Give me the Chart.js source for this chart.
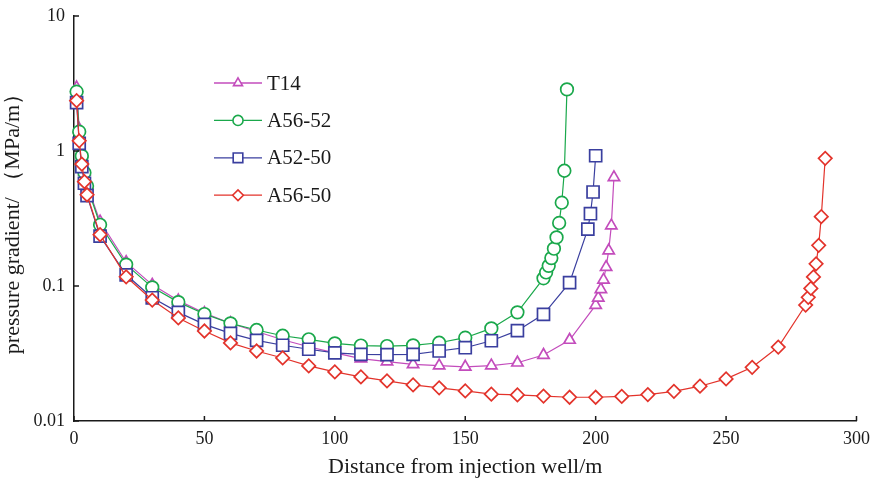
<!DOCTYPE html>
<html>
<head>
<meta charset="utf-8">
<script src="https://cdn.jsdelivr.net/npm/chart.js@4.4.1/dist/chart.umd.min.js"></script>
<style>
  html, body { margin: 0; padding: 0; background: #fff; }
</style>
</head>
<body>
<canvas id="chart" width="877" height="484"></canvas>
<script>
// values
const t14X = [1, 2, 3, 4, 5, 10, 20, 30, 40, 50, 60, 70, 80, 90, 100, 110, 120, 130, 140, 150, 160, 170, 180, 190, 200, 201, 202, 203, 204, 205, 206, 207];
const t14Y = [2.95, 1.45, 0.95, 0.7, 0.56, 0.3, 0.15, 0.102, 0.078, 0.063, 0.053, 0.046, 0.04, 0.0355, 0.032, 0.029, 0.0275, 0.0263, 0.0257, 0.0252, 0.0257, 0.027, 0.0308, 0.0398, 0.0722, 0.0818, 0.0944, 0.111, 0.138, 0.183, 0.28, 0.638];

const a5652X = [1, 2, 3, 4, 5, 10, 20, 30, 40, 50, 60, 70, 80, 90, 100, 110, 120, 130, 140, 150, 160, 170, 180, 181, 182, 183, 184, 185, 186, 187, 188, 189];
const a5652Y = [2.75, 1.39, 0.92, 0.69, 0.55, 0.284, 0.144, 0.0977, 0.076, 0.062, 0.0529, 0.0472, 0.0428, 0.0403, 0.0376, 0.0362, 0.0359, 0.0363, 0.038, 0.0414, 0.0485, 0.0638, 0.114, 0.126, 0.141, 0.161, 0.189, 0.229, 0.293, 0.414, 0.714, 2.86];

const a5250X = [1, 2, 3, 4, 5, 10, 20, 30, 40, 50, 60, 70, 80, 90, 100, 110, 120, 130, 140, 150, 160, 170, 180, 190, 197, 198, 199, 200];
const a5250Y = [2.28, 1.14, 0.766, 0.577, 0.467, 0.234, 0.121, 0.0818, 0.0638, 0.052, 0.0446, 0.0396, 0.0364, 0.034, 0.032, 0.0312, 0.031, 0.0312, 0.033, 0.0349, 0.0393, 0.0467, 0.0617, 0.106, 0.264, 0.343, 0.497, 0.922];

const a5650X = [1, 2, 3, 4, 5, 10, 20, 30, 40, 50, 60, 70, 80, 90, 100, 110, 120, 130, 140, 150, 160, 170, 180, 190, 200, 210, 220, 230, 240, 250, 260, 270, 280.5, 281.5, 282.5, 283.5, 284.5, 285.5, 286.5, 288];
const a5650Y = [2.36, 1.19, 0.8, 0.593, 0.474, 0.24, 0.117, 0.0787, 0.058, 0.0464, 0.0379, 0.033, 0.0293, 0.0256, 0.0231, 0.0212, 0.0198, 0.0185, 0.0176, 0.0167, 0.0158, 0.0156, 0.0153, 0.015, 0.015, 0.0152, 0.0157, 0.0166, 0.0181, 0.0205, 0.025, 0.0353, 0.0722, 0.0824, 0.096, 0.1167, 0.146, 0.2, 0.326, 0.883];

const seriesNames = ["T14", "A56-52", "A52-50", "A56-50"];
const yTicks = [0.01, 0.1, 1, 10];
const xTicks = [0, 50, 100, 150, 200, 250, 300];

const colors = ["#c34cbc", "#1aa84b", "#3a3f9f", "#e3332b"];
const styles = ["triangle", "circle", "rect", "rectRot"];
const radii = [6.5, 6.3, 8.5, 6.7];

const pts = (xs, ys) => xs.map((x, i) => ({ x, y: ys[i] }));
const allX = [t14X, a5652X, a5250X, a5650X];
const allY = [t14Y, a5652Y, a5250Y, a5650Y];

Chart.defaults.font.family = "'Liberation Serif', 'Times New Roman', serif";
Chart.defaults.color = "#1a1a1a";

// ticks pointing into the plot, and the legend drawn inside the plot
const decorPlugin = {
  id: "decor",
  afterDraw(c) {
    const ctx = c.ctx, xs = c.scales.x, ys = c.scales.y;
    ctx.save();
    ctx.strokeStyle = "#1a1a1a";
    ctx.lineWidth = 1.5;
    ctx.beginPath();
    xs.ticks.forEach(t => {
      const p = xs.getPixelForValue(t.value);
      ctx.moveTo(p, xs.top); ctx.lineTo(p, xs.top - 5);
    });
    ys.ticks.forEach(t => {
      const p = ys.getPixelForValue(t.value);
      ctx.moveTo(ys.right, p); ctx.lineTo(ys.right + 5, p);
    });
    ctx.stroke();

    // legend
    seriesNames.forEach((name, i) => {
      const y = 83 + i * 37.4;
      ctx.strokeStyle = colors[i];
      ctx.lineWidth = 1.3;
      ctx.beginPath();
      ctx.moveTo(214, y); ctx.lineTo(262, y);
      ctx.stroke();
      ctx.fillStyle = "#fff";
      ctx.lineWidth = 1.6;
      Chart.helpers.drawPoint(ctx, { pointStyle: styles[i], radius: radii[i] * 0.8, rotation: 0, borderWidth: 1.6 }, 238, y);
      ctx.fillStyle = "#1a1a1a";
      ctx.font = "21px 'Liberation Serif', serif";
      ctx.textBaseline = "middle";
      ctx.fillText(name, 267, y + 1);
    });
    ctx.restore();
  }
};

new Chart(document.getElementById("chart"), {
  type: "line",
  data: {
    datasets: seriesNames.map((name, i) => ({
      label: name,
      data: pts(allX[i], allY[i]),
      borderColor: colors[i],
      backgroundColor: "#fff",
      borderWidth: 1.2,
      pointStyle: styles[i],
      pointRadius: radii[i],
      pointBorderWidth: 1.7,
      pointBorderColor: colors[i],
      pointBackgroundColor: "#fff",
      tension: 0,
      clip: false,
      order: 3 - i
    }))
  },
  options: {
    responsive: false,
    animation: false,
    layout: { padding: { left: 0, right: 19, top: 16, bottom: 0 } },
    plugins: { legend: { display: false }, tooltip: { enabled: false } },
    scales: {
      x: {
        type: "linear",
        min: 0,
        max: 300,
        afterBuildTicks: s => { s.ticks = xTicks.map(v => ({ value: v })); },
        afterFit: s => { s.height = 63; },
        grid: { display: true, drawOnChartArea: false, drawTicks: false },
        border: { display: true, color: "#1a1a1a", width: 1.5 },
        ticks: { font: { size: 18 }, padding: 7, maxRotation: 0 },
        title: {
          display: true,
          text: "Distance from injection well/m",
          font: { size: 22 },
          padding: { top: 0, bottom: 4 }
        }
      },
      y: {
        type: "logarithmic",
        min: 0.01,
        max: 10,
        afterBuildTicks: s => { s.ticks = yTicks.map(v => ({ value: v })); },
        afterFit: s => { s.width = 74; },
        grid: { display: true, drawOnChartArea: false, drawTicks: false },
        border: { display: true, color: "#1a1a1a", width: 1.5 },
        ticks: { font: { size: 18, lineHeight: 0.75 }, padding: 9, callback: v => String(v) },
        title: {
          display: true,
          text: "pressure gradient/ （MPa/m）",
          font: { size: 22 },
          padding: { top: 0, bottom: 8 }
        }
      }
    }
  },
  plugins: [decorPlugin]
});
</script>
</body>
</html>
